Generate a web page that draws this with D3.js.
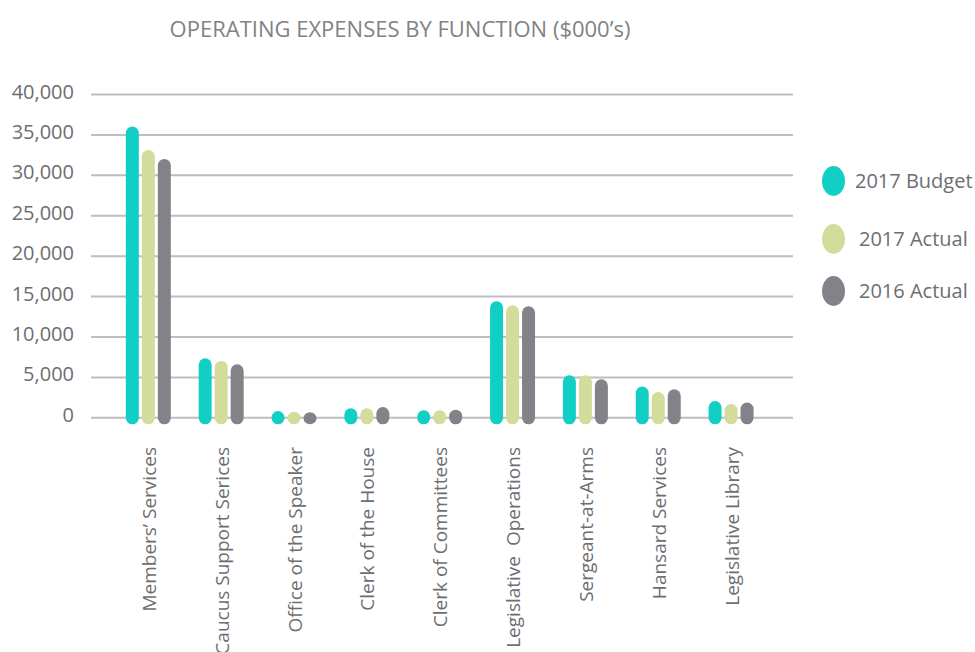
<!DOCTYPE html>
<html>
<head>
<meta charset="utf-8">
<script src="https://cdn.jsdelivr.net/npm/d3@7"></script>
<style>
  html, body { margin: 0; padding: 0; background: #ffffff; }
  svg { display: block; font-family: "Open Sans", "Noto Sans", sans-serif; }
</style>
</head>
<body>
<svg id="chart" width="975" height="652"></svg>
<script>
const title = "OPERATING EXPENSES BY FUNCTION ($000\u2019s)";
const categories = [
  "Members\u2019 Services",
  "Caucus Support Serices",
  "Office of the Speaker",
  "Clerk of the House",
  "Clerk of Committees",
  "Legislative  Operations",
  "Sergeant-at-Arms",
  "Hansard Services",
  "Legislative Library"
];
const seriesNames = ["2017 Budget", "2017 Actual", "2016 Actual"];
const budget2017 = [35970, 7300, 780, 1110, 870, 14360, 5200, 3800, 2020];
const actual2017 = [33080, 6970, 700, 1110, 870, 13860, 5200, 3130, 1650];
const actual2016 = [31970, 6560, 620, 1270, 940, 13740, 4700, 3470, 1820];
const yTicks = [0, 5000, 10000, 15000, 20000, 25000, 30000, 35000, 40000];
const colors = ["#12cfc6", "#d3dc9b", "#818389"];

const seriesValues = [budget2017, actual2017, actual2016];
const svg = d3.select("#chart");

const y = d3.scaleLinear().domain([0, 40000]).range([417.3, 94]);
const x0 = d3.scaleBand().domain(categories).range([111.9, 767.5]).padding(0);
const x1 = d3.scaleBand().domain(seriesNames).range([-24, 24]).padding(0);

const textColor = "#6d6e71";

// Title
svg.append("text")
  .attr("x", 400).attr("y", 37)
  .attr("text-anchor", "middle")
  .attr("fill", "#808285")
  .style("font-size", "22px")
  .text(title);

// Gridlines + y labels
const yAxis = d3.axisLeft(y).tickValues(yTicks)
  .tickSize(-(793 - 91))
  .tickFormat(d3.format(","));
const gy = svg.append("g").attr("transform", "translate(91,0)").call(yAxis);
gy.select(".domain").remove();
gy.selectAll(".tick line").attr("stroke", "#bdbdc2").attr("stroke-width", 2);
gy.selectAll(".tick text")
  .attr("x", -17).attr("dy", "0.2em")
  .attr("fill", textColor)
  .style("font-size", "20px")
  .style("font-family", "\"Open Sans\", sans-serif");

// Bars (rounded pills)
const barW = 13;
const bottomExt = 7;
categories.forEach((c, i) => {
  seriesNames.forEach((s, j) => {
    const v = seriesValues[j][i];
    const cx = x0(c) + x0.bandwidth() / 2 + x1(s) + x1.bandwidth() / 2;
    const top = y(v);
    const bottom = y(0) + bottomExt;
    const h = bottom - top;
    svg.append("rect")
      .attr("x", cx - barW / 2)
      .attr("y", top)
      .attr("width", barW)
      .attr("height", h)
      .attr("rx", barW / 2)
      .attr("ry", Math.min(barW / 2, h / 2))
      .attr("fill", colors[j]);
  });
});

// Category labels (rotated)
categories.forEach((c) => {
  const cx = x0(c) + x0.bandwidth() / 2 + 7.5;
  svg.append("text")
    .attr("transform", `translate(${cx},447) rotate(-90)`)
    .attr("text-anchor", "end")
    .attr("fill", textColor)
    .style("font-size", "19px")
    .style("white-space", "pre")
    .attr("xml:space", "preserve")
    .text(c);
});

// Legend
const legendY = [181, 239, 291];
const legendTextX = [855, 859, 859];
seriesNames.forEach((s, j) => {
  svg.append("ellipse")
    .attr("cx", 833.5).attr("cy", legendY[j])
    .attr("rx", 11.5).attr("ry", 15)
    .attr("fill", colors[j]);
  svg.append("text")
    .attr("x", legendTextX[j]).attr("y", legendY[j] + 7)
    .attr("fill", textColor)
    .style("font-size", "20px")
    .text(s);
});
</script>
</body>
</html>
